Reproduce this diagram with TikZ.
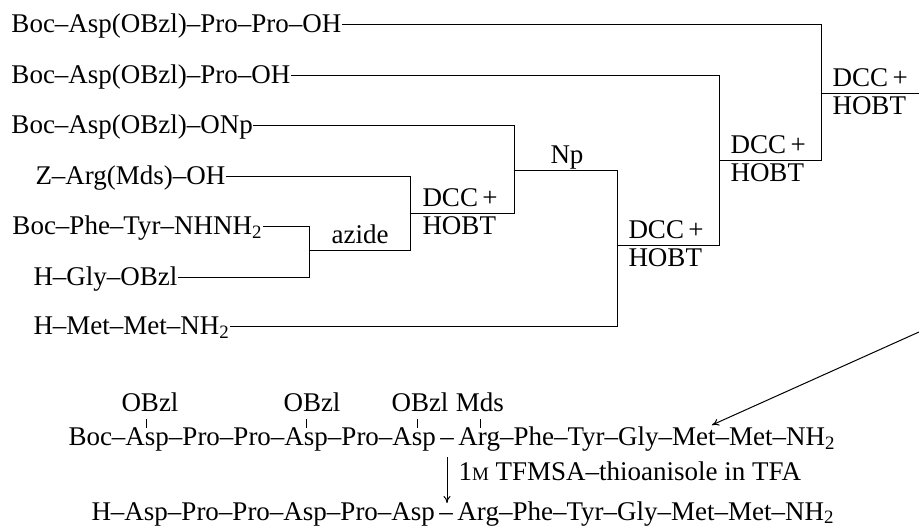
\documentclass[tikz,border=0pt]{standalone}
\usepackage{fontspec}
\setmainfont{Liberation Serif}
\usetikzlibrary{arrows.meta}
\begin{document}
\begin{tikzpicture}[x=1pt,y=-1pt,line width=1pt,
  every node/.style={font=\fontsize{27}{30}\selectfont, inner sep=0pt},
  pep/.style={anchor=west, text height=15pt, text depth=0pt},
  reag/.style={anchor=base west},
  lbl/.style={anchor=base},
  bond/.style={line width=0.8pt},
  arr/.style={-{To[length=7pt,width=7pt]}}]
\useasboundingbox (0,0) rectangle (919,529);
% starting materials
\node[pep] (t1) at (11,25) {Boc–Asp(OBzl)–Pro–Pro–OH};
\node[pep] (t2) at (11,76) {Boc–Asp(OBzl)–Pro–OH};
\node[pep] (t3) at (11,126) {Boc–Asp(OBzl)–ONp};
\node[pep] (t4) at (35,177) {Z–Arg(Mds)–OH};
\node[pep] (t5) at (12,227) {Boc–Phe–Tyr–NHNH\textsubscript{2}};
\node[pep] (t6) at (33,278) {H–Gly–OBzl};
\node[pep] (t7) at (33,327) {H–Met–Met–NH\textsubscript{2}};
% junction points
\coordinate (a1) at (309,227);
\coordinate (a2) at (309,278);
\coordinate (am) at (309,251);
\coordinate (b1) at (410,177);
\coordinate (b2) at (410,251);
\coordinate (bm) at (410,214);
\coordinate (c1) at (514,126);
\coordinate (c2) at (514,214);
\coordinate (cm) at (514,171);
\coordinate (d1) at (617,171);
\coordinate (d2) at (617,327);
\coordinate (dm) at (617,246);
\coordinate (e1) at (719,76);
\coordinate (e2) at (719,246);
\coordinate (em) at (719,161);
\coordinate (f1) at (821,25);
\coordinate (f2) at (821,161);
\coordinate (fm) at (821,94);
\coordinate (g) at (919,94);
% connectors
\draw (t5.east) -- (a1) -- (a2) -- (t6.east);
\draw (am) -- (b2);
\draw (t4.east) -- (b1) -- (b2);
\draw (bm) -- (c2);
\draw (t3.east) -- (c1) -- (c2);
\draw (cm) -- (d1) -- (d2) -- (t7.east);
\draw (dm) -- (e2);
\draw (t2.east) -- (e1) -- (e2);
\draw (em) -- (f2);
\draw (t1.east) -- (f1) -- (f2);
\draw (fm) -- (g);
% reagent labels
\node[lbl] (az) at (360,244) {azide};
\node[lbl] (np) at (567,164) {Np};
\node[reag] (r1a) at (422,207) {DCC\,+};
\node[reag] (r1b) at (422,235) {HOBT};
\node[reag] (r2a) at (628,239) {DCC\,+};
\node[reag] (r2b) at (628,267) {HOBT};
\node[reag] (r3a) at (730,154) {DCC\,+};
\node[reag] (r3b) at (730,182) {HOBT};
\node[reag] (r4a) at (832,87) {DCC\,+};
\node[reag] (r4b) at (832,115) {HOBT};
% protected product
\node[reag] (p1) at (68,446) {Boc–Asp–Pro–Pro–Asp–Pro–Asp\,–\,Arg–Phe–Tyr–Gly–Met–Met–NH\textsubscript{2}};
\node[lbl] (o1) at (150,412) {OBzl};
\node[lbl] (o2) at (312,412) {OBzl};
\node[lbl] (o3) at (420,412) {OBzl};
\node[lbl] (o4) at (480,412) {Mds};
\coordinate (k1a) at (146,419); \coordinate (k1b) at (146,428);
\coordinate (k2a) at (306,419); \coordinate (k2b) at (306,428);
\coordinate (k3a) at (417,419); \coordinate (k3b) at (417,428);
\coordinate (k4a) at (480,419); \coordinate (k4b) at (480,428);
\draw[bond] (k1a) -- (k1b);
\draw[bond] (k2a) -- (k2b);
\draw[bond] (k3a) -- (k3b);
\draw[bond] (k4a) -- (k4b);
% deprotection
\coordinate (v1) at (447,457);
\coordinate (v2) at (447,503);
\draw[arr] (v1) -- (v2);
\node[reag] (cond) at (458,480) {1{\fontsize{19}{20}\selectfont M} TFMSA–thioanisole in TFA};
\node[reag] (p2) at (91,520) {H–Asp–Pro–Pro–Asp–Pro–Asp\,–\,Arg–Phe–Tyr–Gly–Met–Met–NH\textsubscript{2}};
% link from synthesis scheme to product
\coordinate (s) at (919,332);
\coordinate (m) at (712,425);
\draw[arr] (s) -- (m);
\end{tikzpicture}
\end{document}
